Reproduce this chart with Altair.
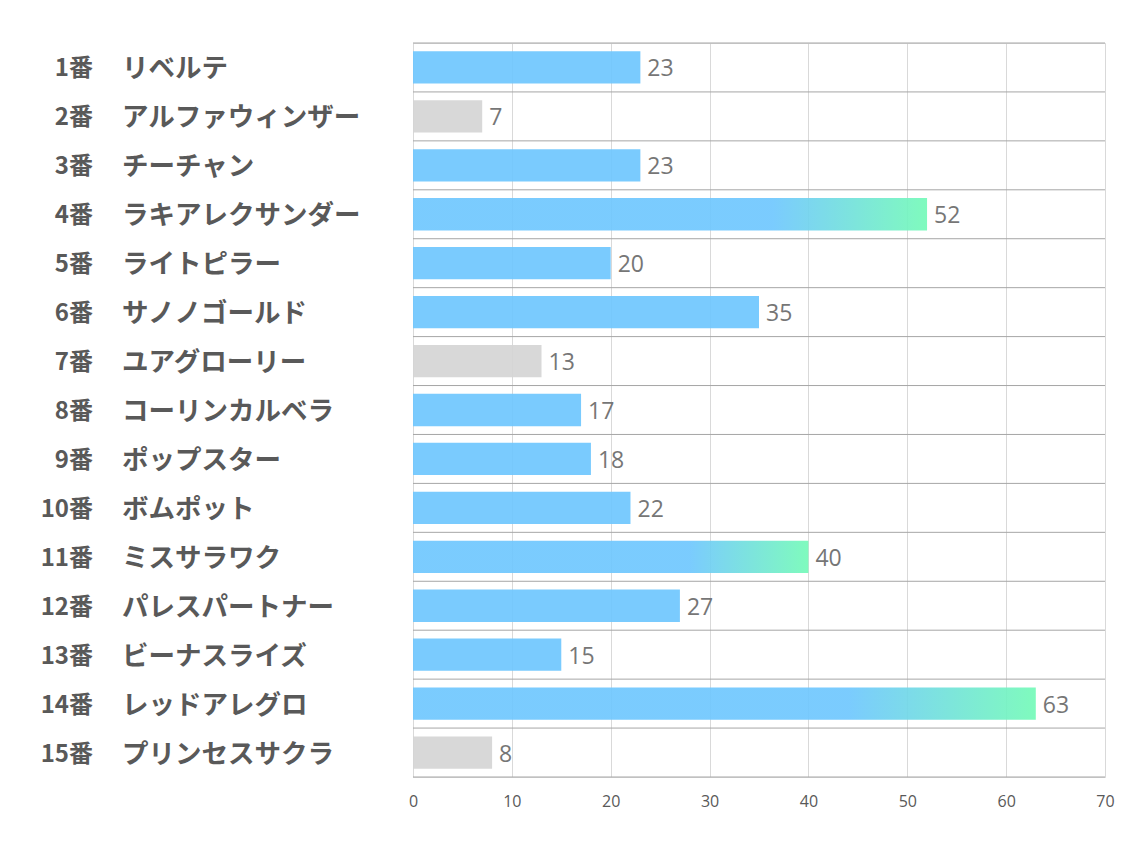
import altair as alt
import pandas as pd

nums = ["1番", "2番", "3番", "4番", "5番", "6番", "7番", "8番", "9番", "10番",
        "11番", "12番", "13番", "14番", "15番"]
names = ["リベルテ", "アルファウィンザー", "チーチャン", "ラキアレクサンダー", "ライトピラー",
         "サノノゴールド", "ユアグローリー", "コーリンカルベラ", "ポップスター", "ボムポット",
         "ミスサラワク", "パレスパートナー", "ビーナスライズ", "レッドアレグロ", "プリンセスサクラ"]
values = [23, 7, 23, 52, 20, 35, 13, 17, 18, 22, 40, 27, 15, 63, 8]
kinds = ["blue", "gray", "blue", "grad", "blue", "blue", "gray", "blue", "blue", "blue",
         "grad", "blue", "blue", "grad", "gray"]
x_ticks = [0, 10, 20, 30, 40, 50, 60, 70]
row_edges = list(range(0, 16))

df = pd.DataFrame({"num": nums, "name": names, "value": values, "kind": kinds})
edges = pd.DataFrame({"k": row_edges})

JP = "Noto Sans CJK JP"
yenc = alt.Y("num:N", sort=nums, axis=None,
             scale=alt.Scale(paddingInner=0.34, paddingOuter=0.17))
xenc = alt.X("value:Q", scale=alt.Scale(domain=[0, 70]),
             axis=alt.Axis(values=x_ticks, grid=True, title=None))

base = alt.Chart(df)

solid = base.transform_filter("datum.kind != 'grad'").mark_bar(opacity=0.92).encode(
    x=xenc, y=yenc,
    color=alt.Color("kind:N", scale=alt.Scale(domain=["blue", "gray"],
                                              range=["#6fc7fe", "#d5d5d5"]), legend=None),
)

grad = base.transform_filter("datum.kind == 'grad'").mark_bar(
    opacity=0.92,
    color=alt.Gradient(gradient="linear", x1=0, x2=1, y1=0, y2=0,
                       stops=[alt.GradientStop(offset=0, color="#6fc7fe"),
                              alt.GradientStop(offset=0.7, color="#6fc7fe"),
                              alt.GradientStop(offset=1, color="#74fab8")]),
).encode(x="value:Q", y=yenc)

vals = base.mark_text(align="left", baseline="middle", dx=7, dy=2, fontSize=23,
                      font="Open Sans", color="#767676").encode(
    x="value:Q", y=yenc, text="value:Q")

numlab = base.mark_text(align="right", baseline="middle", fontSize=24, fontWeight="bold",
                        font=JP, color="#595959", x=-320, dy=2).encode(y=yenc, text="num:N")
namelab = base.mark_text(align="left", baseline="middle", fontSize=26.5, fontWeight="bold",
                         font=JP, color="#595959", x=-291, dy=2).encode(y=yenc, text="name:N")

rules = alt.Chart(edges).mark_rule(color="#a6a6a6", strokeWidth=1).encode(
    y=alt.Y("k:Q", scale=alt.Scale(domain=[0, 15], nice=False), axis=None),
    x=alt.value(0), x2=alt.value(692))

bars = alt.layer(solid, grad, vals, numlab, namelab)
chart = alt.layer(bars, rules).resolve_scale(y="independent").properties(
    width=692, height=734,
    autosize=alt.AutoSizeParams(type="none"),
    padding={"left": 405, "top": 35, "right": 21, "bottom": 50},
).configure_view(stroke=None).configure(background="white").configure_axisX(
    gridColor="#d9d9d9", domain=False, ticks=False, labelFont="Open Sans",
    labelFontSize=16, labelFlush=False, labelColor="#595959", labelPadding=16,
)

chart.save("out.html", embed_options={"renderer": "svg", "actions": False})
